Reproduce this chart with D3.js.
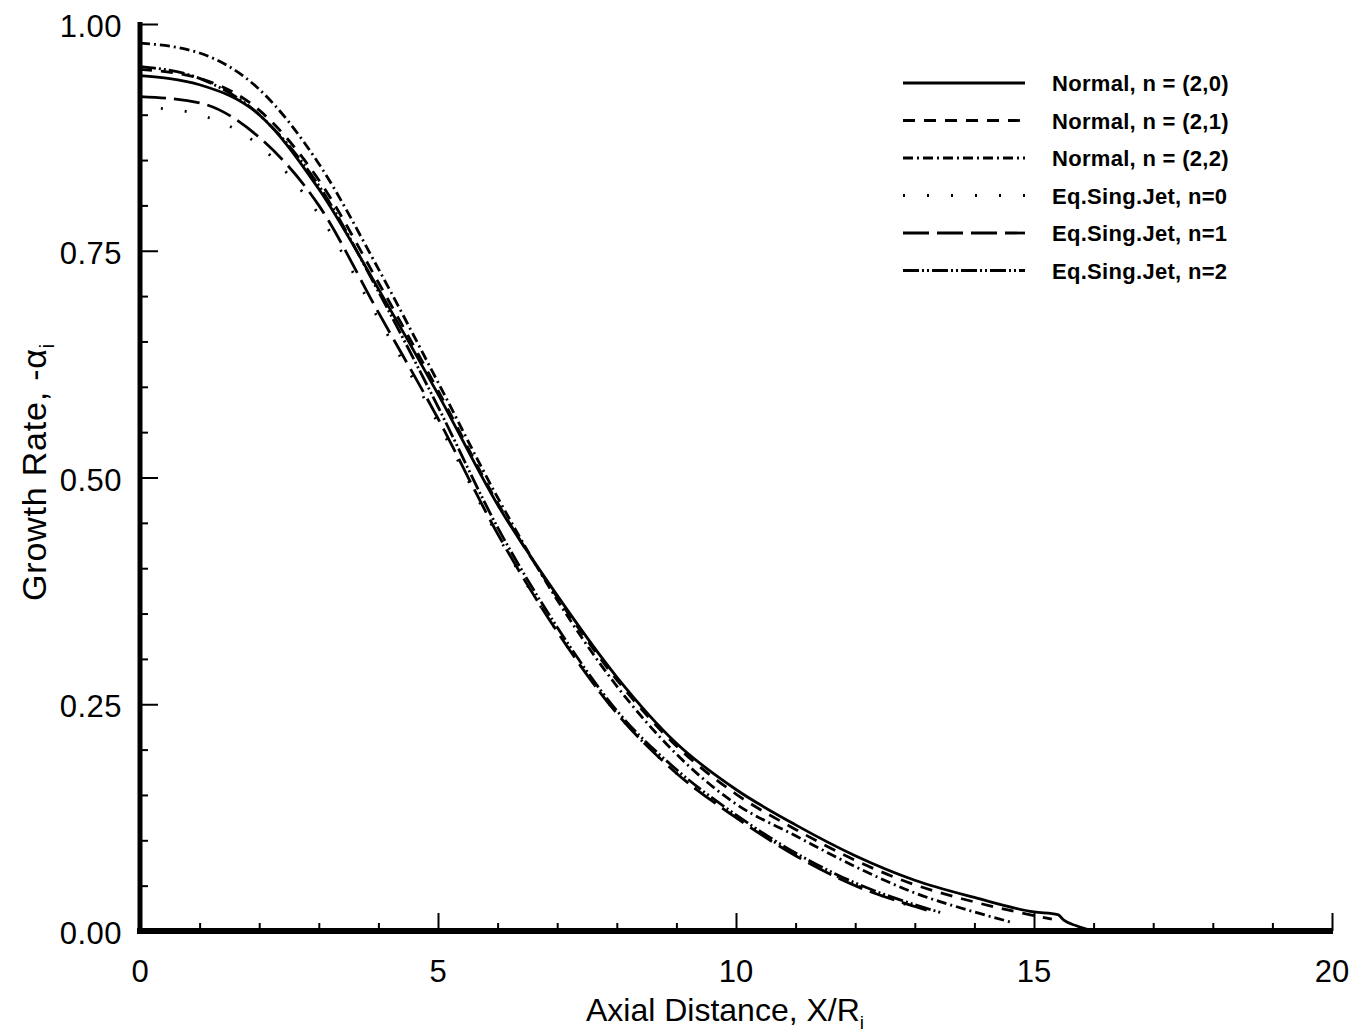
<!DOCTYPE html>
<html>
<head>
<meta charset="utf-8">
<script src="https://cdn.jsdelivr.net/npm/d3@7"></script>
<style>
  body { margin: 0; background: #fff; }
  text { font-family: "Liberation Sans", Arial, Helvetica, sans-serif; fill: #000; }
</style>
</head>
<body>
<svg id="chart" width="1366" height="1034"></svg>
<script>
// values (x = X/Ri, y = -alpha_i)
var normal20_x = [0, 1, 2, 3, 4, 5, 6, 7, 8, 9, 10, 11, 12, 13, 14, 15, 15.4, 15.5, 15.7, 16],
    normal20_y = [0.943, 0.933, 0.900, 0.818, 0.708, 0.592, 0.470, 0.370, 0.280, 0.207, 0.156, 0.117, 0.083, 0.056, 0.037, 0.021, 0.018, 0.012, 0.006, 0.0];

var normal21_x = [0, 1, 2, 3, 4, 5, 6, 7, 8, 9, 10, 11, 12, 13, 14, 15, 15.3],
    normal21_y = [0.950, 0.940, 0.905, 0.828, 0.715, 0.596, 0.472, 0.368, 0.277, 0.204, 0.151, 0.112, 0.078, 0.051, 0.032, 0.017, 0.013];

var normal22_x = [0, 1, 2, 3, 4, 5, 6, 7, 8, 9, 10, 11, 12, 13, 14, 14.6],
    normal22_y = [0.979, 0.968, 0.928, 0.846, 0.730, 0.605, 0.478, 0.365, 0.270, 0.195, 0.140, 0.105, 0.071, 0.042, 0.021, 0.010];

var jet0_x = [0.35, 1, 2, 3, 4, 5, 6, 7, 8, 9, 10, 11, 12, 13, 13.1],
    jet0_y = [0.907, 0.900, 0.866, 0.790, 0.675, 0.560, 0.436, 0.330, 0.240, 0.174, 0.126, 0.084, 0.051, 0.026, 0.024];

var jet1_x = [0, 1, 2, 3, 4, 5, 6, 7, 8, 9, 10, 11, 12, 13, 13.3],
    jet1_y = [0.920, 0.913, 0.875, 0.800, 0.682, 0.565, 0.438, 0.330, 0.240, 0.174, 0.125, 0.083, 0.050, 0.027, 0.021];

var jet2_x = [0, 1, 2, 3, 4, 5, 6, 7, 8, 9, 10, 11, 12, 13, 13.45],
    jet2_y = [0.953, 0.940, 0.900, 0.822, 0.705, 0.578, 0.445, 0.335, 0.243, 0.178, 0.128, 0.086, 0.053, 0.029, 0.020];

var seriesNames = ["Normal, n = (2,0)", "Normal, n = (2,1)", "Normal, n = (2,2)",
                   "Eq.Sing.Jet, n=0", "Eq.Sing.Jet, n=1", "Eq.Sing.Jet, n=2"];
var seriesX = [normal20_x, normal21_x, normal22_x, jet0_x, jet1_x, jet2_x],
    seriesY = [normal20_y, normal21_y, normal22_y, jet0_y, jet1_y, jet2_y];

var xTicks = [0, 5, 10, 15, 20],
    yTicks = [0, 0.25, 0.5, 0.75, 1.0];

// line styles
var dashes = ["none", "12,9", "10,4,2,4", "2,22", "26,8", "16,3,2,3,2,3"];

var svg = d3.select("#chart");

var x = d3.scaleLinear().domain([0, 20]).range([140, 1332]),
    y = d3.scaleLinear().domain([0, 1]).range([931, 24]);

// curves
var line = d3.line()
  .x((d) => x(d[0]))
  .y((d) => y(d[1]))
  .curve(d3.curveMonotoneX);

var data = seriesNames.map((name, i) => ({
  name: name,
  dash: dashes[i],
  pts: seriesX[i].map((v, j) => [v, seriesY[i][j]])
}));

svg.append("g").selectAll("path")
  .data(data).enter()
  .append("path")
  .attr("d", (d) => line(d.pts))
  .attr("fill", "none")
  .attr("stroke", "#000")
  .attr("stroke-width", 2.8)
  .attr("stroke-dasharray", (d) => d.dash);

// axes: ticks point inward
var xAxis = d3.axisBottom(x)
  .tickValues(d3.range(0, 21, 1))
  .tickSize(0)
  .tickFormat("");
var gx = svg.append("g").attr("transform", "translate(0," + y(0) + ")").call(xAxis);
gx.select(".domain").remove();
gx.selectAll(".tick line")
  .attr("y2", (d) => d % 5 === 0 ? -18 : -8)
  .attr("stroke", "#000")
  .attr("stroke-width", 2);

var yAxis = d3.axisLeft(y)
  .tickValues(d3.range(0, 21).map((i) => i * 0.05))
  .tickSize(0)
  .tickFormat("");
var gy = svg.append("g").attr("transform", "translate(" + x(0) + ",0)").call(yAxis);
gy.select(".domain").remove();
gy.selectAll(".tick line")
  .attr("x2", (d) => Math.abs(d / 0.25 - Math.round(d / 0.25)) < 1e-6 ? 18 : 8)
  .attr("stroke", "#000")
  .attr("stroke-width", 2);

// heavy axis lines
svg.append("line")
  .attr("x1", x(0) - 3).attr("x2", x(20) + 1)
  .attr("y1", y(0)).attr("y2", y(0))
  .attr("stroke", "#000").attr("stroke-width", 6);
svg.append("line")
  .attr("x1", x(0)).attr("x2", x(0))
  .attr("y1", y(1) - 2).attr("y2", y(0) + 3)
  .attr("stroke", "#000").attr("stroke-width", 5);

// tick labels
svg.append("g").selectAll("text")
  .data(xTicks).enter()
  .append("text")
  .attr("x", (d) => x(d))
  .attr("y", 982)
  .attr("text-anchor", "middle")
  .attr("font-size", 31)
  .text((d) => d);

svg.append("g").selectAll("text")
  .data(yTicks).enter()
  .append("text")
  .attr("x", 122)
  .attr("y", (d) => y(d) + 13)
  .attr("text-anchor", "end")
  .attr("font-size", 31)
  .attr("letter-spacing", 0.5)
  .text((d) => d.toFixed(2));

// axis titles
var xt = svg.append("text")
  .attr("x", 725)
  .attr("y", 1021)
  .attr("text-anchor", "middle")
  .attr("font-size", 32);
xt.append("tspan").text("Axial Distance, X/R");
xt.append("tspan").attr("font-size", 19).attr("dy", 8).text("i");

var yt = svg.append("text")
  .attr("transform", "translate(46,472) rotate(-90)")
  .attr("text-anchor", "middle")
  .attr("font-size", 34)
  .attr("letter-spacing", 0.8);
yt.append("tspan").text("Growth Rate, -\u03b1");
yt.append("tspan").attr("font-size", 20).attr("dy", 8).text("i");

// legend
var legend = svg.append("g").attr("transform", "translate(903,83)");
var rows = legend.selectAll("g")
  .data(data).enter()
  .append("g")
  .attr("transform", (d, i) => "translate(0," + (i * 37.5) + ")");
rows.append("line")
  .attr("x1", 0).attr("x2", 122)
  .attr("y1", 0).attr("y2", 0)
  .attr("stroke", "#000")
  .attr("stroke-width", 2.8)
  .attr("stroke-dasharray", (d) => d.dash);
rows.append("text")
  .attr("x", 149)
  .attr("y", 8)
  .attr("font-size", 22)
  .attr("font-weight", "bold")
  .attr("letter-spacing", 0.3)
  .text((d) => d.name);
</script>
</body>
</html>
